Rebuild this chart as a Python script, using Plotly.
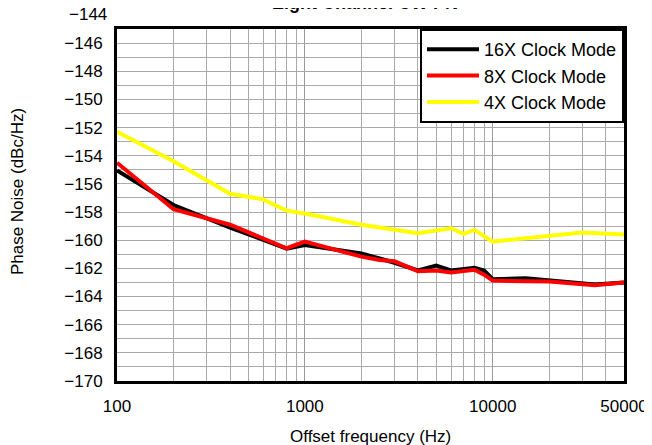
import numpy as np
import plotly.graph_objects as go

# ---- data ----
freq_16x = [100, 200, 400, 800, 1000, 2000, 2500, 3000, 4000, 5000, 6000, 8000, 9000, 10000, 15000, 20000, 35000, 50000]
pn_16x = [-155.05, -157.5, -159.1, -160.6, -160.35, -160.95, -161.3, -161.6, -162.15, -161.8, -162.15, -161.95, -162.15, -162.77, -162.7, -162.85, -163.15, -163.0]

freq_8x = [100, 200, 400, 800, 1000, 2000, 2500, 3000, 4000, 5000, 6000, 8000, 9000, 10000, 20000, 35000, 50000]
pn_8x = [-154.5, -157.8, -158.9, -160.57, -160.1, -161.17, -161.4, -161.5, -162.2, -162.15, -162.3, -162.1, -162.45, -162.87, -162.94, -163.2, -163.0]

freq_4x = [100, 200, 400, 600, 800, 1000, 2000, 2500, 3000, 4000, 6000, 7000, 8000, 10000, 30000, 50000]
pn_4x = [-152.3, -154.4, -156.7, -157.1, -157.9, -158.1, -158.9, -159.1, -159.2, -159.5, -159.15, -159.55, -159.27, -160.1, -159.45, -159.6]

series_names = ["16X Clock Mode", "8X Clock Mode", "4X Clock Mode"]
x_tickvals = [100, 1000, 10000, 50000]
x_ticktext = ["100", "1000", "10000", "50000"]
x_minor = [200, 300, 400, 500, 600, 700, 800, 900,
           2000, 3000, 4000, 5000, 6000, 7000, 8000, 9000,
           20000, 30000, 40000]
y_tickvals = list(range(-170, -145, 2))
y_top_label = "\u2212144"
title_text = "Eight Channel CW PN"
x_title = "Offset frequency (Hz)"
y_title = "Phase Noise (dBc/Hz)"

FONT = "Liberation Sans, Arial, sans-serif"
FS = 17
Y_MIN, Y_MAX = -170, -145

fig = go.Figure()
for f, v, name, col in [(freq_16x, pn_16x, series_names[0], "#000000"),
                        (freq_8x, pn_8x, series_names[1], "#ff0000"),
                        (freq_4x, pn_4x, series_names[2], "#ffff00")]:
    fig.add_trace(go.Scatter(x=f, y=v, mode="lines", name=name,
                             line=dict(color=col, width=4)))

grid = "#aaaaaa"
fig.update_layout(
    width=644, height=437,
    margin=dict(l=109, r=28, t=21, b=64, autoexpand=False),
    paper_bgcolor="white", plot_bgcolor="white",
    font=dict(family=FONT, size=FS, color="black"),
    showlegend=True,
    legend=dict(x=1, y=1, xanchor="right", yanchor="top",
                bgcolor="white", bordercolor="black", borderwidth=2,
                font=dict(size=18), itemwidth=52, tracegroupgap=0),
    xaxis=dict(type="log", range=[2, np.log10(50000)], automargin=False,
               tickmode="array", tickvals=x_tickvals, ticktext=x_ticktext,
               showgrid=True, gridcolor="#999999", gridwidth=1,
               minor=dict(tickmode="array", tickvals=x_minor, showgrid=True,
                          gridcolor=grid, gridwidth=1),
               showline=True, linecolor="black", linewidth=3, mirror=True,
               ticks="", ticklabelstandoff=8, zeroline=False),
    yaxis=dict(range=[Y_MIN, Y_MAX], tickmode="array", tickvals=y_tickvals,
               automargin=False,
               showgrid=True, gridcolor=grid, gridwidth=1,
               minor=dict(dtick=1, showgrid=True, gridcolor=grid, gridwidth=1),
               showline=True, linecolor="black", linewidth=3, mirror=True,
               ticks="", ticklabelstandoff=8, zeroline=False),
    annotations=[
        dict(text="<b>" + title_text + "</b>", xref="paper", yref="paper",
             x=0.49, y=1.041, xanchor="center", yanchor="bottom",
             showarrow=False, font=dict(size=18)),
        dict(text=x_title, xref="paper", yref="paper", x=0.5, y=-0.159,
             xanchor="center", yanchor="middle", showarrow=False),
        dict(text=y_title, xref="paper", yref="paper", x=-0.195, y=0.537,
             xanchor="center", yanchor="middle", textangle=-90, showarrow=False),
        dict(text=y_top_label, xref="paper", yref="paper", x=-0.016,
             y=(-144 - Y_MIN) / (Y_MAX - Y_MIN),
             xanchor="right", yanchor="middle", showarrow=False),
    ],
)

fig.write_html("out.html")
